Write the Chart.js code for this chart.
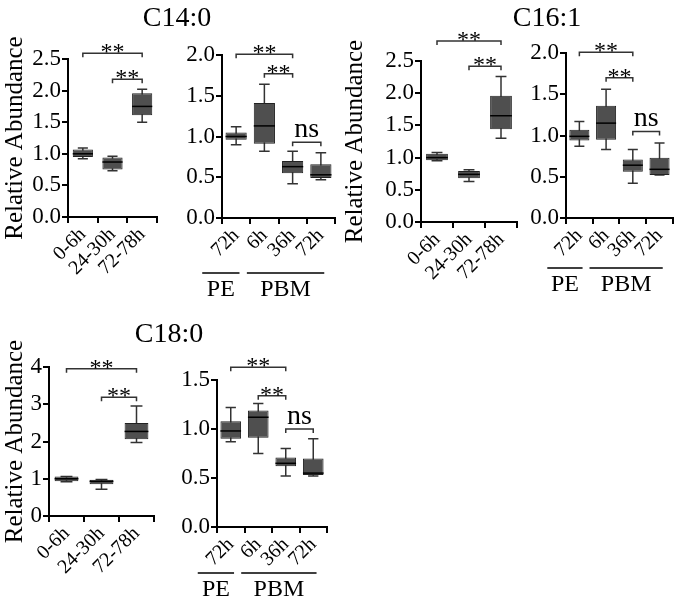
<!DOCTYPE html>
<html>
<head>
<meta charset="utf-8">
<script src="https://cdn.jsdelivr.net/npm/chart.js@4.4.1/dist/chart.umd.min.js"></script>
<style>
  body { margin: 0; background: #fff; width: 677px; height: 600px; position: relative; overflow: hidden; }
  canvas { position: absolute; }
</style>
</head>
<body>
<canvas id="p1"></canvas>
<canvas id="p2"></canvas>
<canvas id="p3"></canvas>
<canvas id="p4"></canvas>
<canvas id="p5"></canvas>
<canvas id="p6"></canvas>

<script>
// categories
const timeLabels = ["0-6h", "24-30h", "72-78h"];
const feedLabels = ["72h", "6h", "36h", "72h"];
const feedGroups = ["PE", "PBM"];

// box stats per group: [min, q1, median, q3, max]
const c14Time = [[0.92, 0.95, 1.00, 1.07, 1.09], [0.73, 0.75, 0.87, 0.94, 0.96], [1.50, 1.61, 1.75, 1.96, 2.02]];
const c14Feed = [[0.90, 0.96, 1.00, 1.05, 1.12], [0.82, 0.91, 1.13, 1.41, 1.64], [0.42, 0.55, 0.63, 0.70, 0.82], [0.47, 0.49, 0.53, 0.66, 0.80]];
const c16Time = [[0.95, 0.96, 1.00, 1.06, 1.08], [0.63, 0.68, 0.74, 0.79, 0.81], [1.30, 1.44, 1.65, 1.96, 2.26]];
const c16Feed = [[0.87, 0.94, 0.99, 1.07, 1.17], [0.83, 0.95, 1.15, 1.36, 1.56], [0.42, 0.56, 0.64, 0.71, 0.83], [0.52, 0.52, 0.59, 0.73, 0.91]];
const c18Time = [[0.92, 0.93, 1.00, 1.06, 1.06], [0.72, 0.85, 0.93, 0.97, 0.98], [1.97, 2.06, 2.27, 2.50, 2.95]];
const c18Feed = [[0.87, 0.90, 0.98, 1.08, 1.22], [0.75, 0.91, 1.12, 1.19, 1.26], [0.52, 0.62, 0.65, 0.71, 0.80], [0.52, 0.53, 0.55, 0.70, 0.90]];

// significance brackets: [from, to, y, text]
const c14TimeSig = [[0, 2, 2.59, "**"], [1, 2, 2.18, "**"]];
const c14FeedSig = [[0, 2, 2.01, "**"], [1, 2, 1.77, "**"], [2, 3, 0.93, "ns"]];
const c16TimeSig = [[0, 2, 2.81, "**"], [1, 2, 2.42, "**"]];
const c16FeedSig = [[0, 2, 2.01, "**"], [1, 2, 1.70, "**"], [2, 3, 1.05, "ns"]];
const c18TimeSig = [[0, 2, 3.95, "**"], [1, 2, 3.19, "**"]];
const c18FeedSig = [[0, 2, 1.63, "**"], [1, 2, 1.34, "**"], [2, 3, 1.00, "ns"]];

const SERIF = "'Liberation Serif'";
Chart.defaults.font.family = SERIF;
Chart.defaults.color = "#000";

function makeChart(id, pos, labels, stats, sigs, axis, groups) {
  const cv = document.getElementById(id);
  cv.width = pos.w;
  cv.height = pos.h;
  cv.style.left = pos.x + "px";
  cv.style.top = pos.y + "px";

  const boxes = {
    id: "boxes",
    beforeDatasetsDraw(chart) {
      const ctx = chart.ctx;
      const y = chart.scales.y;
      ctx.save();
      ctx.strokeStyle = "#333";
      ctx.lineWidth = 1.5;
      chart.getDatasetMeta(0).data.forEach((bar, i) => {
        const lo = y.getPixelForValue(stats[i][0]);
        const hi = y.getPixelForValue(stats[i][4]);
        const cap = bar.width / 4;
        ctx.beginPath();
        ctx.moveTo(bar.x, lo);
        ctx.lineTo(bar.x, hi);
        ctx.moveTo(bar.x - cap, lo);
        ctx.lineTo(bar.x + cap, lo);
        ctx.moveTo(bar.x - cap, hi);
        ctx.lineTo(bar.x + cap, hi);
        ctx.stroke();
      });
      ctx.restore();
    },
    afterDatasetsDraw(chart) {
      const ctx = chart.ctx;
      const y = chart.scales.y;
      ctx.save();
      ctx.strokeStyle = "#000";
      ctx.lineWidth = 1.5;
      chart.getDatasetMeta(0).data.forEach((bar, i) => {
        const m = y.getPixelForValue(stats[i][2]);
        ctx.beginPath();
        ctx.moveTo(bar.x - bar.width / 2, m);
        ctx.lineTo(bar.x + bar.width / 2, m);
        ctx.stroke();
      });
      ctx.restore();
    },
    afterDraw(chart) {
      const ctx = chart.ctx;
      const x = chart.scales.x;
      const y = chart.scales.y;
      ctx.save();
      ctx.strokeStyle = "#333";
      ctx.fillStyle = "#000";
      ctx.lineWidth = 1.5;
      ctx.textAlign = "center";
      sigs.forEach(([a, b, v, t]) => {
        const x1 = x.getPixelForValue(a);
        const x2 = x.getPixelForValue(b);
        const yy = y.getPixelForValue(v);
        ctx.beginPath();
        ctx.moveTo(x1, yy + 4);
        ctx.lineTo(x1, yy);
        ctx.lineTo(x2, yy);
        ctx.lineTo(x2, yy + 4);
        ctx.stroke();
        if (t === "ns") {
          ctx.font = "28px " + SERIF;
          ctx.fillText(t, (x1 + x2) / 2, yy - 5);
        } else {
          ctx.font = "24px " + SERIF;
          ctx.fillText(t, (x1 + x2) / 2, yy + 6);
        }
      });
      if (groups) {
        const step = x.getPixelForValue(1) - x.getPixelForValue(0);
        const x0 = x.getPixelForValue(0);
        const x1 = x.getPixelForValue(1);
        const x3 = x.getPixelForValue(labels.length - 1);
        const ly = chart.chartArea.bottom + axis.groupY;
        ctx.strokeStyle = "#000";
        ctx.beginPath();
        ctx.moveTo(x0 - 1.2 * step, ly);
        ctx.lineTo(x0 + 0.12 * step, ly);
        ctx.moveTo(x1 - 0.62 * step, ly);
        ctx.lineTo(x3 + 0.12 * step, ly);
        ctx.stroke();
        ctx.font = "24px " + SERIF;
        ctx.textBaseline = "top";
        ctx.fillText(groups[0], x0 - 0.54 * step, ly + 5);
        ctx.fillText(groups[1], (x1 - 0.62 * step + x3 + 0.12 * step) / 2, ly + 5);
      }
      if (axis.title) {
        // figure title, placed at page coordinates
        ctx.font = "28px " + SERIF;
        ctx.textBaseline = "alphabetic";
        ctx.fillText(axis.title[0], axis.title[1] - pos.x, axis.title[2] - pos.y);
      }
      ctx.restore();
    }
  };

  return new Chart(cv, {
    type: "bar",
    data: {
      labels: labels,
      datasets: [{
        data: stats.map((s) => [s[1], s[3]]),
        backgroundColor: "#4f4f4f",
        borderColor: "#222",
        borderWidth: 1,
        borderSkipped: false,
        barPercentage: axis.bar,
        categoryPercentage: 1
      }]
    },
    options: {
      responsive: false,
      animation: false,
      layout: { padding: { top: axis.top, right: axis.right, left: 0, bottom: 0 } },
      plugins: { legend: { display: false }, tooltip: { enabled: false } },
      scales: {
        x: {
          offset: true,
          ticks: { maxRotation: 45, minRotation: 45, autoSkip: false, font: { size: 20, family: SERIF }, padding: 0 },
          grid: { drawOnChartArea: false, color: "#000", lineWidth: 2, tickLength: 6 },
          border: { color: "#000", width: 2 },
          afterFit: (s) => { s.height = axis.xh; }
        },
        y: {
          min: 0,
          max: axis.max,
          ticks: {
            stepSize: axis.step,
            font: { size: 23, family: SERIF },
            padding: 1,
            callback: (v) => axis.dec ? v.toFixed(1) : v
          },
          grid: { drawOnChartArea: false, color: "#000", lineWidth: 2, tickLength: 6 },
          border: { color: "#000", width: 2 },
          title: { display: axis.ytitle, text: "Relative Abundance", font: { size: 25, family: SERIF }, padding: 0 },
          afterFit: (s) => { s.width = axis.yw; }
        }
      }
    },
    plugins: [boxes]
  });
}

makeChart("p1", { x: 0, y: 0, w: 220, h: 300 }, timeLabels, c14Time, c14TimeSig,
  { top: 59, right: 63, xh: 83, yw: 68, max: 2.5, step: 0.5, dec: true, ytitle: true, bar: 0.68, title: ["C14:0", 177, 26] });
makeChart("p2", { x: 170, y: 0, w: 175, h: 300 }, feedLabels, c14Feed, c14FeedSig,
  { top: 55, right: 10, xh: 82, yw: 52, max: 2.0, step: 0.5, dec: true, ytitle: false, bar: 0.75, groupY: 55 }, feedGroups);
makeChart("p3", { x: 340, y: 0, w: 187, h: 300 }, timeLabels, c16Time, c16TimeSig,
  { top: 61, right: 10, xh: 78, yw: 81, max: 2.5, step: 0.5, dec: true, ytitle: true, bar: 0.68 });
makeChart("p4", { x: 505, y: 0, w: 172, h: 300 }, feedLabels, c16Feed, c16FeedSig,
  { top: 53, right: 4, xh: 82, yw: 61, max: 2.0, step: 0.5, dec: true, ytitle: false, bar: 0.75, groupY: 50, title: ["C16:1", 547, 26] }, feedGroups);
makeChart("p5", { x: 0, y: 290, w: 212, h: 310 }, timeLabels, c18Time, c18TimeSig,
  { top: 77, right: 58, xh: 84, yw: 49, max: 4, step: 1, dec: false, ytitle: true, bar: 0.68, title: ["C18:0", 169, 342] });
makeChart("p6", { x: 170, y: 290, w: 167, h: 310 }, feedLabels, c18Feed, c18FeedSig,
  { top: 90, right: 10, xh: 73, yw: 47, max: 1.5, step: 0.5, dec: true, ytitle: false, bar: 0.75, groupY: 46 }, feedGroups);
</script>
</body>
</html>
